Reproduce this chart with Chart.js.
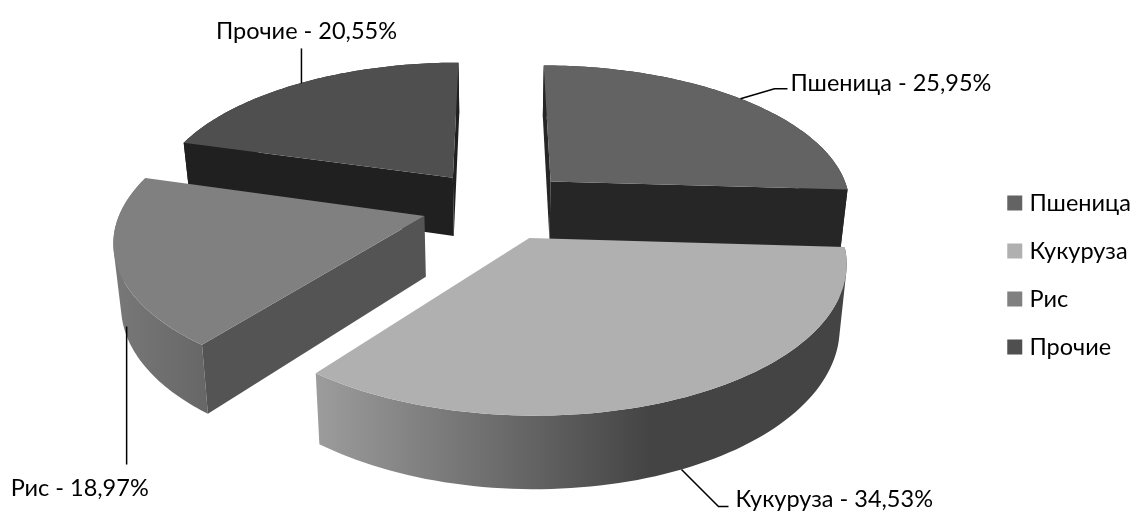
<!DOCTYPE html>
<html>
<head>
<meta charset="utf-8">
<script src="https://cdn.jsdelivr.net/npm/chart.js@4/dist/chart.umd.js"></script>
<style>
  html, body { margin: 0; padding: 0; background: #fff; }
  canvas { display: block; }
</style>
</head>
<body>
<canvas id="grafico" width="1135" height="512"></canvas>
<script>
const categories = ['Пшеница', 'Кукуруза', 'Рис', 'Прочие'];
const shares = [25.95, 34.53, 18.97, 20.55];

const topColors = ['#636363', '#b0b0b0', '#808080', '#4f4f4f'];
const wallColors = ['#262626', '#4a4a4a', '#545454', '#202020'];
const rimStops = [['#262626', '#262626'], ['#9c9c9c', '#444444'], ['#787878', '#676767'], ['#202020', '#202020']];
const rimSpans = [[500, 850], [317, 650], [115, 205], [180, 460]];

const fontFamily = 'Lato, "Open Sans", sans-serif';
const fontSize = 23.5;

// camera of the pie: plane radius on screen, tilt, perspective, thickness
const view = { cx: 497, cy: 205, rx: 302, ry: 140, k: 0.15, depth: 60, shrink: 0.98, explode: 0.25 };

// leader line and text of each slice, relative to its rim point
const labelLayout = [
  { bottom: false, from: [0, 0], path: [[34, -10], [47, -10]], text: [50, -15], align: 'left' },
  { bottom: true, from: [0, 0], path: [[37, 37], [47, 37]], text: [54, 30], align: 'left' },
  { bottom: true, from: [3, 0], path: [[0, 138]], text: [-116, 162], align: 'left' },
  { bottom: false, from: [2, 0], path: [[0, -35]], text: [5, -52], align: 'center' }
];

function project(x, y, bottom) {
  const w = 1 + view.k * y;
  const shrink = bottom ? view.shrink : 1;
  return [
    view.cx + shrink * view.rx * x / w,
    view.cy - view.ry * y / w + (bottom ? view.depth / w : 0)
  ];
}

function polygon(ctx, points, fill) {
  ctx.beginPath();
  points.forEach((p, i) => i ? ctx.lineTo(p[0], p[1]) : ctx.moveTo(p[0], p[1]));
  ctx.closePath();
  ctx.fillStyle = fill;
  ctx.fill();
}

function quadArea(q) {
  let sum = 0;
  q.forEach((p, i) => {
    const next = q[(i + 1) % q.length];
    sum += p[0] * next[1] - next[0] * p[1];
  });
  return sum;
}

class Pie3DController extends Chart.PieController {
  draw() {
    const ctx = this.chart.ctx;
    const arcs = this.getMeta().data.map((arc, index) => ({ arc, index, ...this.geometry(arc) }));

    // far slices first
    arcs.sort((a, b) => b.ay - a.ay);
    arcs.forEach(s => this.drawSlice(ctx, s));
    arcs.forEach(s => this.drawLabel(ctx, s));
  }

  geometry(arc) {
    const mid = (arc.startAngle + arc.endAngle) / 2;
    return {
      mid,
      ax: view.explode * Math.cos(mid),
      ay: -view.explode * Math.sin(mid)
    };
  }

  rimPoint(s, angle, bottom) {
    return project(s.ax + Math.cos(angle), s.ay - Math.sin(angle), bottom);
  }

  drawSlice(ctx, s) {
    const { startAngle, endAngle } = s.arc;
    const i = s.index;
    const steps = 80;
    const topRim = [];
    const lowRim = [];
    for (let n = 0; n <= steps; n++) {
      const a = startAngle + (endAngle - startAngle) * n / steps;
      topRim.push(this.rimPoint(s, a, false));
      lowRim.push(this.rimPoint(s, a, true));
    }

    // outer side: all strips in one path, same winding, so there are no seams
    const grad = ctx.createLinearGradient(rimSpans[i][0], 0, rimSpans[i][1], 0);
    grad.addColorStop(0, rimStops[i][0]);
    grad.addColorStop(1, rimStops[i][1]);
    ctx.beginPath();
    for (let n = 0; n < steps; n++) {
      const q = [topRim[n], topRim[n + 1], lowRim[n + 1], lowRim[n]];
      if (quadArea(q) < 0) q.reverse();
      q.forEach((p, k) => k ? ctx.lineTo(p[0], p[1]) : ctx.moveTo(p[0], p[1]));
      ctx.closePath();
    }
    ctx.fillStyle = grad;
    ctx.fill();

    // radial walls, only the ones that face the camera
    const apexTop = project(s.ax, s.ay, false);
    const apexLow = project(s.ax, s.ay, true);
    [[topRim[0], lowRim[0], -1], [topRim[steps], lowRim[steps], 1]].forEach(([t, l, sign]) => {
      const cross = (t[0] - apexTop[0]) * (apexLow[1] - apexTop[1]) - (t[1] - apexTop[1]) * (apexLow[0] - apexTop[0]);
      if (cross * sign > 0) {
        polygon(ctx, [apexTop, t, l, apexLow], wallColors[i]);
      }
    });

    polygon(ctx, [apexTop].concat(topRim), topColors[i]);
  }

  drawLabel(ctx, s) {
    const layout = labelLayout[s.index];
    const rim = this.rimPoint(s, s.mid, layout.bottom);
    const anchor = [rim[0] + layout.from[0], rim[1] + layout.from[1]];
    ctx.beginPath();
    ctx.moveTo(anchor[0], anchor[1]);
    layout.path.forEach(p => ctx.lineTo(anchor[0] + p[0], anchor[1] + p[1]));
    ctx.strokeStyle = '#000';
    ctx.lineWidth = 1.5;
    ctx.stroke();

    const value = shares[s.index].toFixed(2).replace('.', ',');
    ctx.fillStyle = '#000';
    ctx.font = fontSize + 'px ' + fontFamily;
    ctx.textAlign = layout.align;
    ctx.textBaseline = 'middle';
    ctx.fillText(categories[s.index] + ' - ' + value + '%', anchor[0] + layout.text[0], anchor[1] + layout.text[1]);
  }
}
Pie3DController.id = 'pie3d';
Chart.register(Pie3DController);

new Chart(document.getElementById('grafico'), {
  type: 'pie3d',
  data: {
    labels: categories,
    datasets: [{
      data: shares,
      backgroundColor: topColors,
      borderWidth: 0
    }]
  },
  options: {
    responsive: false,
    animation: false,
    layout: { padding: { top: 38, right: -6 } },
    plugins: {
      tooltip: { enabled: false },
      legend: {
        position: 'right',
        labels: {
          color: '#000',
          usePointStyle: true,
          pointStyle: 'rect',
          boxWidth: 6,
          boxHeight: 15,
          padding: 24.5,
          font: { family: fontFamily, size: fontSize }
        }
      }
    }
  }
});
</script>
</body>
</html>
